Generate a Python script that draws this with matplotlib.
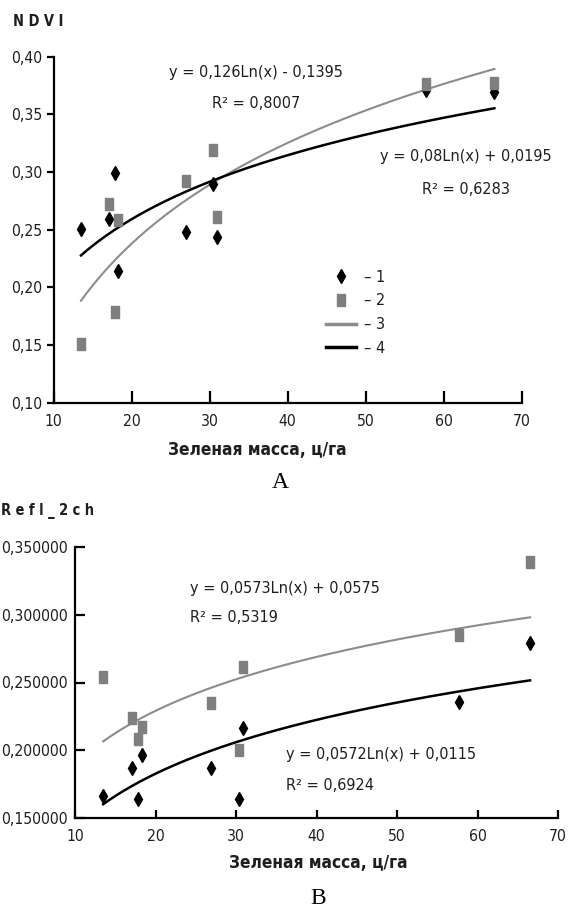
import numpy as np
import matplotlib
matplotlib.use("Agg")
import matplotlib.pyplot as plt
from matplotlib import font_manager
from matplotlib.ticker import FuncFormatter, MultipleLocator
from matplotlib.lines import Line2D

# green mass, c/ha (same samples on both panels)
mass = [13.5, 17.1, 17.8, 18.3, 26.9, 30.4, 30.9, 57.7, 66.5]

# panel A - NDVI
ndvi_1 = [0.251, 0.259, 0.299, 0.214, 0.248, 0.290, 0.244, 0.371, 0.369]
ndvi_2 = [0.151, 0.272, 0.179, 0.258, 0.292, 0.319, 0.261, 0.376, 0.377]
ndvi_fit_1 = [0.08, 0.0195]     # black, line 4
ndvi_fit_2 = [0.126, -0.1395]   # grey, line 3
ndvi_eq_1 = ["y = 0,08Ln(x) + 0,0195", "R² = 0,6283"]
ndvi_eq_2 = ["y = 0,126Ln(x) - 0,1395", "R² = 0,8007"]

# panel B - Refl_2ch
refl_1 = [0.1663, 0.1874, 0.1641, 0.1968, 0.1874, 0.1641, 0.2166, 0.2356, 0.2790]
refl_2 = [0.2537, 0.2240, 0.2087, 0.2173, 0.2347, 0.2000, 0.2611, 0.2850, 0.3390]
refl_fit_1 = [0.0572, 0.0115]
refl_fit_2 = [0.0573, 0.0575]
refl_eq_1 = ["y = 0,0572Ln(x) + 0,0115", "R² = 0,6924"]
refl_eq_2 = ["y = 0,0573Ln(x) + 0,0575", "R² = 0,5319"]

legend_labels = ["– 1", "– 2", "– 3", "– 4"]

# the original uses a narrow sans; take one if installed
narrow = None
for f in font_manager.fontManager.ttflist:
    n = f.name
    if "Mono" in n or "Serif" in n:
        continue
    if "Narrow" in n or "Condensed" in n or f.stretch in ("condensed", "semi-condensed"):
        if narrow is None or "Liberation" in n:
            narrow = f
if narrow is not None:
    plt.rcParams["font.family"] = [narrow.name, "DejaVu Sans"]
    plt.rcParams["font.stretch"] = narrow.stretch
else:
    plt.rcParams["font.family"] = ["Liberation Sans", "DejaVu Sans"]

W, H = 571, 914
GREY_PT = "#7f7f7f"
GREY_LN = "#8c8c8c"
TXT = "#1e1e1e"
RECT = [(-0.75, -1), (0.75, -1), (0.75, 1), (-0.75, 1), (-0.75, -1)]

fig = plt.figure(figsize=(W / 100, H / 100), dpi=100)
renderer = fig.canvas.get_renderer()


def fit_size(s, width_px, **kw):
    # font size that gives the text the width it has in the original
    t = fig.text(0, 0, s, fontsize=10, **kw)
    w = t.get_window_extent(renderer).width
    t.remove()
    return 10 * width_px / w


FS_TICK = fit_size("70", 18)
FS_EQ = fit_size(ndvi_eq_1[0], 172)
FS_XLAB = fit_size("Зеленая масса, ц/га", 178, fontweight="bold")
FS_YLAB = fit_size("N D V I", 50, fontweight="bold")


def fx(x):
    return x / W


def fy(y):
    return 1 - y / H


def trend(ax, coef, color, lw):
    xs = np.linspace(min(mass), max(mass), 200)
    ax.plot(xs, coef[0] * np.log(xs) + coef[1], color=color, lw=lw, zorder=2)


def style(ax, ylo, yhi, ystep, ydec, ydir, xtl, ytl, ypad):
    ax.set_xlim(10, 70)
    ax.set_ylim(ylo, yhi)
    ax.xaxis.set_major_locator(MultipleLocator(10))
    ax.yaxis.set_major_locator(MultipleLocator(ystep))
    ax.yaxis.set_major_formatter(FuncFormatter(lambda v, p: f"{v:.{ydec}f}".replace(".", ",")))
    for s in ["top", "right"]:
        ax.spines[s].set_visible(False)
    for s in ["left", "bottom"]:
        ax.spines[s].set_linewidth(1.6)
        ax.spines[s].set_color("black")
    ax.tick_params(axis="x", direction="in", length=xtl, width=1.6, pad=8,
                   labelsize=FS_TICK, labelcolor=TXT)
    ax.tick_params(axis="y", direction=ydir, length=ytl, width=1.6, pad=ypad,
                   labelsize=FS_TICK, labelcolor=TXT)
    ax.patch.set_alpha(0)


def points(ax, s1, s2):
    ax.plot(mass, s1, ls="none", marker="d", ms=7.5, color="black", zorder=3)
    ax.plot(mass, s2, ls="none", marker=RECT, ms=8.5, color=GREY_PT, zorder=4)


# ---- panel A ----
ax1 = fig.add_axes([fx(53.7), fy(402.7), (521.7 - 53.7) / W, (402.7 - 56.7) / H])
trend(ax1, ndvi_fit_2, GREY_LN, 1.5)
trend(ax1, ndvi_fit_1, "black", 1.8)
points(ax1, ndvi_1, ndvi_2)
style(ax1, 0.10, 0.40, 0.05, 2, "out", 9, 5, 3)

handles = [
    Line2D([], [], ls="none", marker="d", ms=7.5, color="black"),
    Line2D([], [], ls="none", marker=RECT, ms=8.5, color=GREY_PT),
    Line2D([], [], color=GREY_LN, lw=2.5),
    Line2D([], [], color="black", lw=2.5),
]
ax1.legend(handles, legend_labels, loc="upper left", bbox_to_anchor=(fx(311), fy(255)),
           bbox_transform=fig.transFigure, frameon=False, fontsize=FS_EQ,
           handlelength=1.9, handletextpad=0.5, labelspacing=0.55, labelcolor=TXT)

fig.text(fx(256), fy(72), ndvi_eq_2[0], ha="center", va="center", fontsize=FS_EQ, color=TXT)
fig.text(fx(256), fy(103), ndvi_eq_2[1], ha="center", va="center", fontsize=FS_EQ, color=TXT)
fig.text(fx(466), fy(157), ndvi_eq_1[0], ha="center", va="center", fontsize=FS_EQ, color=TXT)
fig.text(fx(466), fy(190), ndvi_eq_1[1], ha="center", va="center", fontsize=FS_EQ, color=TXT)

fig.text(fx(13), fy(22), "N D V I", ha="left", va="center", fontsize=FS_YLAB,
         fontweight="bold", color=TXT)
fig.text(fx(257), fy(450), "Зеленая масса, ц/га", ha="center", va="center",
         fontsize=FS_XLAB, fontweight="bold", color=TXT)
fig.text(fx(280), fy(483), "A", ha="center", va="center", fontsize=17,
         family="Liberation Serif", color="black")

# ---- panel B ----
ax2 = fig.add_axes([fx(75), fy(818.3), (558.3 - 75) / W, (818.3 - 546.7) / H])
trend(ax2, refl_fit_2, GREY_LN, 1.5)
trend(ax2, refl_fit_1, "black", 1.8)
points(ax2, refl_1, refl_2)
style(ax2, 0.15, 0.35, 0.05, 6, "in", 6, 7, 5)

fig.text(fx(190), fy(589), refl_eq_2[0], ha="left", va="center", fontsize=FS_EQ, color=TXT)
fig.text(fx(190), fy(618), refl_eq_2[1], ha="left", va="center", fontsize=FS_EQ, color=TXT)
fig.text(fx(286), fy(755), refl_eq_1[0], ha="left", va="center", fontsize=FS_EQ, color=TXT)
fig.text(fx(286), fy(786), refl_eq_1[1], ha="left", va="center", fontsize=FS_EQ, color=TXT)

fig.text(fx(1), fy(511), "R e f l _ 2 c h", ha="left", va="center", fontsize=FS_YLAB,
         fontweight="bold", color=TXT)
fig.text(fx(318), fy(863), "Зеленая масса, ц/га", ha="center", va="center",
         fontsize=FS_XLAB, fontweight="bold", color=TXT)
fig.text(fx(318), fy(898), "B", ha="center", va="center", fontsize=17,
         family="Liberation Serif", color="black")

fig.savefig("out.png", dpi=100)
